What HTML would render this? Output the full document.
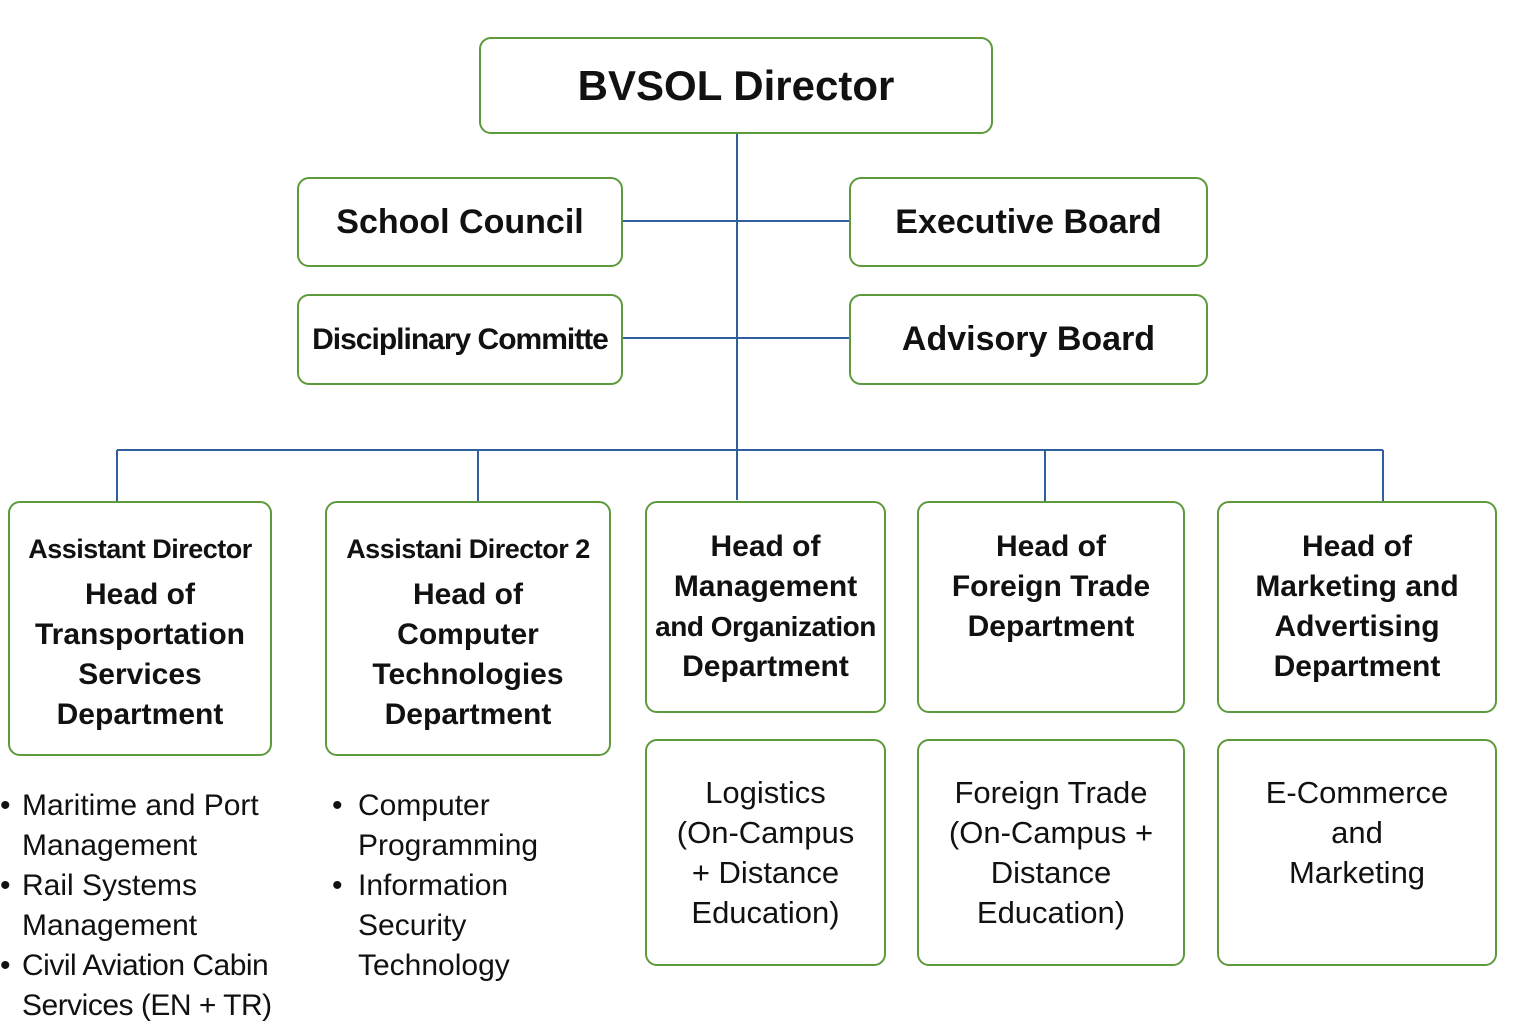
<!DOCTYPE html>
<html><head><meta charset="utf-8"><style>
body{margin:0;width:1536px;height:1024px;background:#fff;position:relative;overflow:hidden;font-family:"Liberation Sans",sans-serif;color:#111}
.b{position:absolute;box-sizing:border-box;border:2.5px solid #5c9a3c;border-radius:12px;background:#fff;display:flex;flex-direction:column;align-items:center;justify-content:center;text-align:center;font-weight:bold}
.t{position:absolute;font-size:30px;line-height:40px}
.top{justify-content:flex-start;padding-top:24px}
.low{font-weight:normal;font-size:31px;line-height:40px;justify-content:flex-start;padding-top:32px}
svg{position:absolute;left:0;top:0}
</style></head><body>
<svg width="1536" height="1024"><g stroke="#2f5f9c" stroke-width="2" fill="none">
<line x1="737" y1="133" x2="737" y2="500"/>
<line x1="622" y1="221" x2="849" y2="221"/>
<line x1="622" y1="338" x2="849" y2="338"/>
<line x1="117" y1="450" x2="1383" y2="450"/>
<line x1="117" y1="450" x2="117" y2="501"/>
<line x1="478" y1="450" x2="478" y2="501"/>
<line x1="1045" y1="450" x2="1045" y2="501"/>
<line x1="1383" y1="450" x2="1383" y2="501"/>
</g></svg>
<div class="b" style="left:479px;top:37px;width:514px;height:97px;font-size:42px">BVSOL Director</div>
<div class="b" style="left:297px;top:177px;width:326px;height:90px;font-size:34px">School Council</div>
<div class="b" style="left:849px;top:177px;width:359px;height:90px;font-size:34px">Executive Board</div>
<div class="b" style="left:297px;top:294px;width:326px;height:91px;font-size:30px;letter-spacing:-1px">Disciplinary Committe</div>
<div class="b" style="left:849px;top:294px;width:359px;height:91px;font-size:34px">Advisory Board</div>

<div class="b top" style="left:8px;top:501px;width:264px;height:255px;font-size:30px;line-height:40px;padding-top:26px"><div style="font-size:27px;letter-spacing:-0.5px;margin-bottom:6px">Assistant Director</div>Head of<br>Transportation<br>Services<br>Department</div>
<div class="b top" style="left:325px;top:501px;width:286px;height:255px;font-size:30px;line-height:40px;padding-top:26px"><div style="font-size:27px;letter-spacing:-0.5px;margin-bottom:6px">Assistani Director 2</div>Head of<br>Computer<br>Technologies<br>Department</div>
<div class="b top" style="left:645px;top:501px;width:241px;height:212px;font-size:30px;line-height:40px"><span>Head of<br>Management<br><span style="font-size:28px;letter-spacing:-0.5px">and Organization</span><br>Department</span></div>
<div class="b top" style="left:917px;top:501px;width:268px;height:212px;font-size:30px;line-height:40px">Head of<br>Foreign Trade<br>Department</div>
<div class="b top" style="left:1217px;top:501px;width:280px;height:212px;font-size:30px;line-height:40px">Head of<br>Marketing and<br>Advertising<br>Department</div>

<div class="b low" style="left:645px;top:739px;width:241px;height:227px">Logistics<br>(On-Campus<br>+ Distance<br>Education)</div>
<div class="b low" style="left:917px;top:739px;width:268px;height:227px">Foreign Trade<br>(On-Campus +<br>Distance<br>Education)</div>
<div class="b low" style="left:1217px;top:739px;width:280px;height:227px">E-Commerce<br>and<br>Marketing</div>

<div class="t" style="left:0;top:786px">•</div>
<div class="t" style="left:22px;top:786px">Maritime and Port<br>Management</div>
<div class="t" style="left:0;top:866px">•</div>
<div class="t" style="left:22px;top:866px">Rail Systems<br>Management</div>
<div class="t" style="left:0;top:946px">•</div>
<div class="t" style="left:22px;top:946px;letter-spacing:-0.5px">Civil Aviation Cabin<br>Services (EN + TR)</div>
<div class="t" style="left:332px;top:786px">•</div>
<div class="t" style="left:358px;top:786px">Computer<br>Programming</div>
<div class="t" style="left:332px;top:866px">•</div>
<div class="t" style="left:358px;top:866px">Information<br>Security<br>Technology</div>
</body></html>
